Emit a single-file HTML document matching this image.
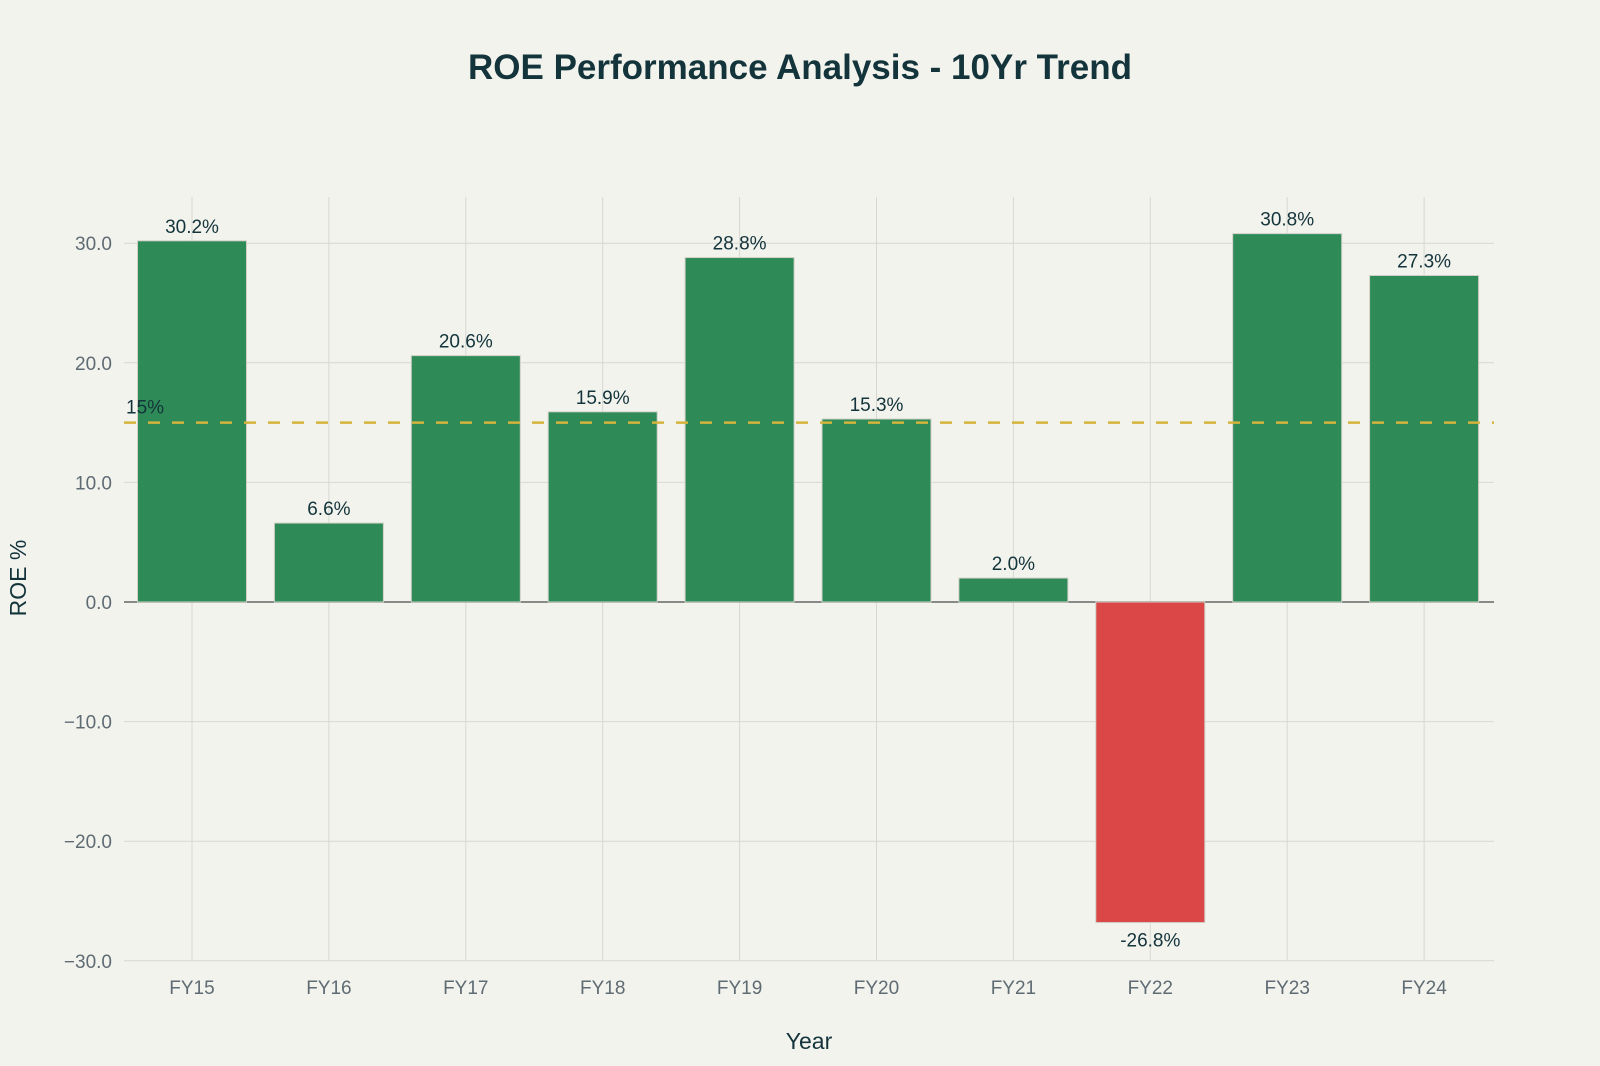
<!DOCTYPE html>
<html><head><meta charset="utf-8"><style>
body{margin:0;background:#f3f3ee;}
svg{display:block;font-family:"Liberation Sans",sans-serif;}
</style></head><body>
<svg id="chart" width="1600" height="1066">
<rect width="1600" height="1066" fill="#f3f3ee"/>
<text x="800" y="79" text-anchor="middle" font-size="35" font-weight="bold" fill="#13343b">ROE Performance Analysis - 10Yr Trend</text>
<g id="grid"></g><g id="bars"></g><g id="labels"></g>
<text x="809" y="1049" text-anchor="middle" font-size="23" fill="#13343b">Year</text>
<text transform="translate(26,578) rotate(-90)" text-anchor="middle" font-size="23" fill="#13343b">ROE %</text>
</svg>
<script>
const categories=["FY15","FY16","FY17","FY18","FY19","FY20","FY21","FY22","FY23","FY24"];
const roeValues=[30.2,6.6,20.6,15.9,28.8,15.3,2.0,-26.8,30.8,27.3];
const yTicks=[30,20,10,0,-10,-20,-30];
const targetValue=15;
const NS="http://www.w3.org/2000/svg";
const L=124,R=1494,T=197,B=960;
const yScale=v=>602-(v*11.96);
const xStep=136.9, x0=192;
const xScale=i=>x0+i*xStep;
function mk(tag,attrs,parent){const e=document.createElementNS(NS,tag);for(const k in attrs)e.setAttribute(k,attrs[k]);parent.appendChild(e);return e;}
const grid=document.getElementById('grid'),bars=document.getElementById('bars'),labels=document.getElementById('labels');
categories.forEach((c,i)=>{
 const l=mk('line',{x1:xScale(i),x2:xScale(i),y1:T,y2:B,stroke:'#d8d8d2','stroke-width':1},grid);
 
 
 const t=mk('text',{x:xScale(i),y:994,'text-anchor':'middle','font-size':19,fill:'#5f6b73'},labels);
 t.textContent=c;
 
 
});
yTicks.forEach(v=>{
 const l=mk('line',{x1:L,x2:R,y1:yScale(v),y2:yScale(v),stroke:v===0?'#666':'#d8d8d2','stroke-width':v===0?1.5:1},grid);
 
 
 const t=mk('text',{x:112,y:yScale(v)+7,'text-anchor':'end','font-size':19,fill:'#5f6b73'},labels);
 t.textContent=(v<0?'\u2212':'')+Math.abs(v).toFixed(1);
 
 
});
const bw=109;
roeValues.forEach((v,i)=>{
 const y0=yScale(0),y1=yScale(v);
 const r=mk('rect',{x:xScale(i)-bw/2,y:Math.min(y0,y1),width:bw,height:Math.abs(y1-y0),fill:v<0?'#db4647':'#2e8b57',stroke:'#d0d0c8','stroke-width':1},bars);
 
 
 const t=mk('text',{x:xScale(i),y:v<0?y1+24:y1-8,'text-anchor':'middle','font-size':19,fill:'#13343b'},labels);
 t.textContent=v.toFixed(1)+'%';
 
 
});
const tl=mk('line',{x1:L,x2:R,y1:yScale(targetValue),y2:yScale(targetValue),stroke:'#d4b43c','stroke-width':2.5,'stroke-dasharray':'12,12'},labels);


const tt=mk('text',{x:126,y:yScale(targetValue)-9,'font-size':19,fill:'#13343b'},labels);
tt.textContent=targetValue+'%';


</script>
</body></html>
